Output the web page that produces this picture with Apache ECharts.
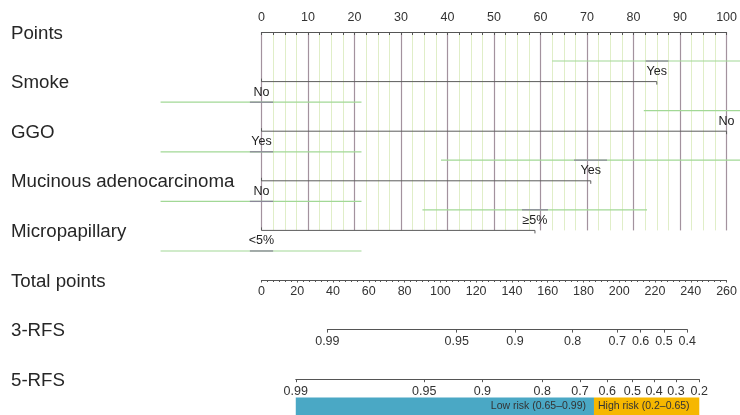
<!DOCTYPE html>
<html><head><meta charset="utf-8">
<script src="https://cdn.jsdelivr.net/npm/echarts@6/dist/echarts.min.js"></script>
<style>html,body{margin:0;padding:0;background:#fff}#c{width:740px;height:415px}</style>
</head><body><div id="c"></div>
<script>
// ---- data ----
const rowNames = ['Points','Smoke','GGO','Mucinous adenocarcinoma','Micropapillary','Total points','3-RFS','5-RFS'];
const factorNames = ['Smoke','GGO','Mucinous adenocarcinoma','Micropapillary'];
const levelLabels = [['No','Yes'],['Yes','No'],['No','Yes'],['<5%','≥5%']];
const levelPoints = [[0,85],[0,100],[0,70.8],[0,58.8]];
const bandLow  = [[-21.7,62.5],[-21.7,82.2],[-21.7,38.6],[-21.7,34.6]];
const bandHigh = [[21.5,108],[21.5,118],[21.5,103],[21.5,82.9]];
const markLow  = [[-2.5,82.6],[-2.5,null],[-2.5,67.2],[-2.5,56]];
const markHigh = [[2.5,87.5],[2.5,null],[2.5,74.3],[2.5,61.6]];
const pointsMax = 100;
const totalMax = 260;
const rfs3Labels = ['0.99','0.95','0.9','0.8','0.7','0.6','0.5','0.4'];
const rfs3Pos = [36.7,108.8,141.3,173.4,198.3,211.3,224.3,237.3];
const rfs5Labels = ['0.99','0.95','0.9','0.8','0.7','0.6','0.5','0.4','0.3','0.2'];
const rfs5Pos = [19.1,90.7,123.1,156.5,177.5,192.7,206.7,218.8,231.0,244.0];
const riskNames = ['Low risk (0.65–0.99)','High risk (0.2–0.65)'];
const riskFrom = [19.1,185.3];
const riskTo = [185.3,244.0];
const riskColors = ['#4aa8c5','#f6b700'];

// ---- layout ----
const L = 261.5, W = 466.5, ROW0 = 32, ROWH = 49.6;
const px = tp => L + tp / totalMax * W;
const FONT = 'Liberation Sans, Arial, Helvetica, sans-serif';

function fmt(pos, labels){
  return function(v){
    let best = 0, d = Infinity;
    pos.forEach((p,k)=>{ if (Math.abs(p-v) < d){ d = Math.abs(p-v); best = k; } });
    return labels[best];
  };
}

const grids = [
  {left:L, top:ROW0, width:W, height:ROWH*4},
  {left:L, top:ROW0+1.5-ROWH/2, width:W, height:ROWH*8},
  {left:L, top:ROW0+5*ROWH-1, width:W, height:1},
  {left:px(rfs3Pos[0]), top:ROW0+6*ROWH-1, width:px(rfs3Pos[rfs3Pos.length-1])-px(rfs3Pos[0]), height:1},
  {left:px(rfs5Pos[0]), top:ROW0+7*ROWH-1, width:px(rfs5Pos[rfs5Pos.length-1])-px(rfs5Pos[0]), height:1},
  {left:px(riskFrom[0]), top:397.5, width:px(riskTo[riskTo.length-1])-px(riskFrom[0]), height:18}
].map(g=>Object.assign({containLabel:false}, g));

const axLine = {lineStyle:{color:'#555', width:1}};
const xAxes = [
  {gridIndex:0, type:'value', min:0, max:pointsMax, interval:10, position:'top',
   axisLine:axLine, axisTick:{inside:true, length:3, lineStyle:{color:'#555'}},
   minorTick:{show:true, splitNumber:4, length:3, lineStyle:{color:'#555'}},
   axisLabel:{fontSize:12.5, color:'#333', margin:8},
   splitLine:{show:true, lineStyle:{color:'#a3929e', width:1.2}},
   minorSplitLine:{show:true, lineStyle:{color:'#e0eec8', width:1}}},
  {gridIndex:1, type:'value', min:0, max:1, show:false},
  {gridIndex:2, type:'value', min:0, max:totalMax, interval:20, position:'bottom',
   axisLine:axLine, axisTick:{length:2.5, lineStyle:{color:'#555'}},
   minorTick:{show:true, splitNumber:6, length:2, lineStyle:{color:'#555'}},
   axisLabel:{fontSize:12.5, color:'#333', margin:5}, splitLine:{show:false}},
  {gridIndex:3, type:'value', min:rfs3Pos[0], max:rfs3Pos[rfs3Pos.length-1], position:'bottom',
   axisLine:axLine, axisTick:{length:3, customValues:rfs3Pos, lineStyle:{color:'#555'}},
   axisLabel:{fontSize:12.5, color:'#333', margin:5.5, customValues:rfs3Pos, formatter:fmt(rfs3Pos, rfs3Labels)},
   splitLine:{show:false}},
  {gridIndex:4, type:'value', min:rfs5Pos[0], max:rfs5Pos[rfs5Pos.length-1], position:'bottom',
   axisLine:axLine, axisTick:{length:3, customValues:rfs5Pos, lineStyle:{color:'#555'}},
   axisLabel:{fontSize:12.5, color:'#333', margin:5.5, customValues:rfs5Pos, formatter:fmt(rfs5Pos, rfs5Labels)},
   splitLine:{show:false}},
  {gridIndex:5, type:'value', min:riskFrom[0], max:riskTo[riskTo.length-1], show:false}
];
const yAxes = [
  {gridIndex:0, type:'value', min:0, max:4, inverse:true, show:false},
  {gridIndex:1, type:'category', inverse:true, data:rowNames,
   axisLine:{show:false}, axisTick:{show:false}, splitLine:{show:false},
   axisLabel:{align:'left', margin:L-11, fontSize:18.7, color:'#262626'}},
  {gridIndex:2, type:'value', show:false},
  {gridIndex:3, type:'value', show:false},
  {gridIndex:4, type:'value', show:false},
  {gridIndex:5, type:'value', min:0, max:1, show:false}
];

// factor rows
const factorData = factorNames.map((n,i)=>[i+1, i]);
const BAND_OFF = 0.415; // rows
function renderFactor(params, api){
  const row = api.value(0), i = api.value(1);
  const pts = levelPoints[i];
  const maxP = Math.max.apply(null, pts);
  const p0 = api.coord([0,row]), p1 = api.coord([maxP,row]);
  const children = [];
  pts.forEach((v,j)=>{
    const above = v > 0;
    const off = above ? -BAND_OFF : BAND_OFF;
    const a = api.coord([bandLow[i][j], row+off]), b = api.coord([bandHigh[i][j], row+off]);
    children.push({type:'line', shape:{x1:a[0],y1:a[1],x2:b[0],y2:b[1]}, style:{stroke:'#a2d896', lineWidth:1.2}});
    if (markLow[i][j] != null) {
      const m1 = api.coord([markLow[i][j], row+off]), m2 = api.coord([markHigh[i][j], row+off]);
      children.push({type:'line', shape:{x1:m1[0],y1:m1[1],x2:m2[0],y2:m2[1]}, style:{stroke:'#8a8898', lineWidth:1.3}});
    }
  });
  children.push({type:'line', shape:{x1:p0[0],y1:p0[1],x2:p1[0],y2:p1[1]}, style:{stroke:'#5c5c5c', lineWidth:1}});
  children.push({type:'line', shape:{x1:p0[0],y1:p0[1]-3,x2:p0[0],y2:p0[1]}, style:{stroke:'#5c5c5c', lineWidth:1}});
  children.push({type:'line', shape:{x1:p1[0],y1:p1[1],x2:p1[0],y2:p1[1]+3}, style:{stroke:'#5c5c5c', lineWidth:1}});
  pts.forEach((v,j)=>{
    const c = api.coord([v,row]);
    const above = v > 0;
    children.push({type:'text', style:{text:levelLabels[i][j], x:c[0], y:c[1] + (above?-10:10.5),
      align:'center', verticalAlign:'middle', fontSize:12.5, fontFamily:FONT, fill:'#222'}});
  });
  return {type:'group', children};
}

function renderRisk(params, api){
  const k = api.value(2);
  const a = api.coord([api.value(0), 0.5]), b = api.coord([api.value(1), 0.5]);
  const cs = params.coordSys;
  return {type:'group', children:[
    {type:'rect', shape:{x:a[0], y:cs.y, width:b[0]-a[0], height:cs.height}, style:{fill:riskColors[k]}},
    {type:'text', style:{text:riskNames[k], x: k===0 ? b[0]-8 : a[0]+4, y:cs.y+cs.height/2,
      align: k===0 ? 'right':'left', verticalAlign:'middle', fontSize:10.5, fontFamily:FONT, fill:'#333'}}
  ]};
}

const chart = echarts.init(document.getElementById('c'), null, {renderer:'canvas'});
chart.setOption({
  animation:false,
  backgroundColor:'#fff',
  textStyle:{fontFamily:FONT},
  grid:grids, xAxis:xAxes, yAxis:yAxes,
  series:[
    {type:'custom', xAxisIndex:0, yAxisIndex:0, data:factorData, renderItem:renderFactor, clip:false, silent:true},
    {type:'custom', xAxisIndex:5, yAxisIndex:5, data:riskNames.map((n,k)=>[riskFrom[k], riskTo[k], k]), renderItem:renderRisk, silent:true}
  ]
});
</script></body></html>
